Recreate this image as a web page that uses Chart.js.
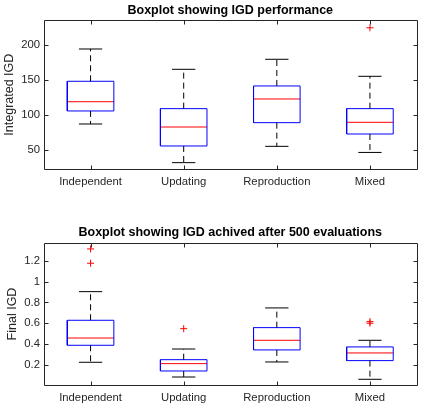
<!DOCTYPE html>
<html>
<head>
<meta charset="utf-8">
<script src="https://cdn.jsdelivr.net/npm/chart.js@4"></script>
<style>
  html, body { margin: 0; padding: 0; background: #fff; }
  canvas { display: block; }
</style>
</head>
<body>
<canvas id="igdChart" width="430" height="208"></canvas>
<canvas id="finalChart" width="430" height="208"></canvas>
<script>
"use strict"

const categories = ['Independent', 'Updating', 'Reproduction', 'Mixed'];

// top plot: integrated IGD
const igdLowerWhisker = [87.6, 32.4, 55.7, 47];
const igdQ1 = [106.2, 56.2, 89.5, 73.3];
const igdMedian = [119.4, 83.3, 123.3, 90];
const igdQ3 = [148.6, 109.5, 141.9, 109.5];
const igdUpperWhisker = [194.7, 165.7, 180, 155.7];
const igdOutliers = [[], [], [], [225]];
const igdTicks = [50, 100, 150, 200];

// bottom plot: IGD after 500 evaluations
const finalLowerWhisker = [0.223, 0.081, 0.226, 0.059];
const finalQ1 = [0.387, 0.139, 0.342, 0.239];
const finalMedian = [0.457, 0.210, 0.435, 0.313];
const finalQ3 = [0.628, 0.248, 0.557, 0.371];
const finalUpperWhisker = [0.904, 0.351, 0.747, 0.435];
const finalOutliers = [[1.316, 1.178], [0.547], [], [0.615, 0.600]];
const finalTicks = [0.2, 0.4, 0.6, 0.8, 1, 1.2];

const BOX = 0.25;   // half box width (x units)
const CAP = 0.125;  // half whisker cap width
const FONT = 'Liberation Sans, Arial, Helvetica, sans-serif';
const AXIS = '#262626';

function boxDatasets(lo, q1, med, q3, hi, out) {
  let whisk = [], box = [], caps = [], mid = [], pts = [];
  categories.forEach((c, i) => {
    let x = i + 1;
    whisk.push({x: x, y: q3[i]}, {x: x, y: hi[i]}, {x: x, y: null},
               {x: x, y: q1[i]}, {x: x, y: lo[i]}, {x: x, y: null});
    box.push({x: x - BOX, y: q1[i]}, {x: x + BOX, y: q1[i]}, {x: x + BOX, y: q3[i]},
             {x: x - BOX, y: q3[i]}, {x: x - BOX, y: q1[i]}, {x: x, y: null});
    caps.push({x: x - CAP, y: hi[i]}, {x: x + CAP, y: hi[i]}, {x: x, y: null},
              {x: x - CAP, y: lo[i]}, {x: x + CAP, y: lo[i]}, {x: x, y: null});
    mid.push({x: x - BOX, y: med[i]}, {x: x + BOX, y: med[i]}, {x: x, y: null});
    out[i].forEach(v => pts.push({x: x, y: v}));
  });
  let line = (data, color, dash) => ({
    type: 'scatter', data: data, showLine: true, spanGaps: false,
    borderColor: color, borderWidth: 1, borderDash: dash || [],
    pointRadius: 0, fill: false
  });
  return [
    line(whisk, '#000000', [6, 4]),
    line(box, '#0000ff'),
    line(caps, '#000000'),
    line(mid, '#ff0000'),
    {type: 'scatter', data: pts, pointStyle: 'cross', pointRadius: 3.5,
     borderColor: '#ff0000', borderWidth: 1, backgroundColor: '#ff0000'}
  ];
}

// MATLAB style box with inward tick marks on all four sides
const framePlugin = {
  id: 'frame',
  afterDraw(chart) {
    let {ctx, chartArea: a, scales} = chart;
    let L = Math.round(a.left) + 0.5, R = Math.round(a.right) + 0.5;
    let T = Math.round(a.top) + 0.5, B = Math.round(a.bottom) + 0.5;
    ctx.save();
    ctx.strokeStyle = AXIS;
    ctx.lineWidth = 1;
    ctx.beginPath();
    scales.x.ticks.forEach(t => {
      let px = Math.round(scales.x.getPixelForValue(t.value)) + 0.5;
      ctx.moveTo(px, T); ctx.lineTo(px, T + 4);
      ctx.moveTo(px, B); ctx.lineTo(px, B - 4);
    });
    scales.y.ticks.forEach(t => {
      let py = Math.round(scales.y.getPixelForValue(t.value)) + 0.5;
      ctx.moveTo(L, py); ctx.lineTo(L + 4, py);
      ctx.moveTo(R, py); ctx.lineTo(R - 4, py);
    });
    ctx.rect(L, T, R - L, B - T);
    ctx.stroke();
    ctx.restore();
  }
};

function makeChart(id, opts) {
  return new Chart(document.getElementById(id), {
    data: {datasets: boxDatasets(opts.lo, opts.q1, opts.med, opts.q3, opts.hi, opts.out)},
    plugins: [framePlugin],
    options: {
      responsive: false,
      animation: false,
      layout: {padding: {left: 0, right: 13.5, top: 0, bottom: 0}},
      plugins: {
        legend: {display: false},
        tooltip: {enabled: false},
        title: {
          display: true, text: opts.title, color: '#000', fullSize: false,
          font: {family: FONT, size: 12.5, weight: 'bold', lineHeight: 1.2},
          padding: opts.titlePad
        }
      },
      scales: {
        x: {
          type: 'linear', min: 0.5, max: 4.5,
          grid: {display: false, drawTicks: false}, border: {display: false},
          afterBuildTicks: s => { s.ticks = categories.map((c, i) => ({value: i + 1})); },
          afterFit: s => { s.height = opts.xHeight; },
          ticks: {
            color: AXIS, padding: 6, maxRotation: 0, autoSkip: false,
            font: {family: FONT, size: 11.3},
            callback: (v, i) => categories[i]
          }
        },
        y: {
          type: 'linear', min: opts.yMin, max: opts.yMax,
          grid: {display: false, drawTicks: false}, border: {display: false},
          afterBuildTicks: s => { s.ticks = opts.ticks.map(v => ({value: v})); },
          afterFit: s => { s.width = 44; },
          ticks: {
            color: AXIS, padding: 4,
            font: {family: FONT, size: 11.3},
            callback: v => String(v)
          },
          title: {
            display: true, text: opts.yLabel, color: AXIS,
            font: {family: FONT, size: 12.5, lineHeight: 1.2},
            padding: {top: opts.yLabelPad, bottom: 0}
          }
        }
      }
    }
  });
}

makeChart('igdChart', {
  title: 'Boxplot showing IGD performance', yLabel: 'Integrated IGD',
  lo: igdLowerWhisker, q1: igdQ1, med: igdMedian, q3: igdQ3, hi: igdUpperWhisker, out: igdOutliers,
  ticks: igdTicks, yMin: 22.9, yMax: 236.1,
  titlePad: {top: 3, bottom: 2}, xHeight: 38.7, yLabelPad: 2.5
});

makeChart('finalChart', {
  title: 'Boxplot showing IGD achived after 500 evaluations', yLabel: 'Final IGD',
  lo: finalLowerWhisker, q1: finalQ1, med: finalMedian, q3: finalQ3, hi: finalUpperWhisker, out: finalOutliers,
  ticks: finalTicks, yMin: 0.001, yMax: 1.376,
  titlePad: {top: 17, bottom: 2.7}, xHeight: 30.7, yLabelPad: 4.8
});
</script>
</body>
</html>
